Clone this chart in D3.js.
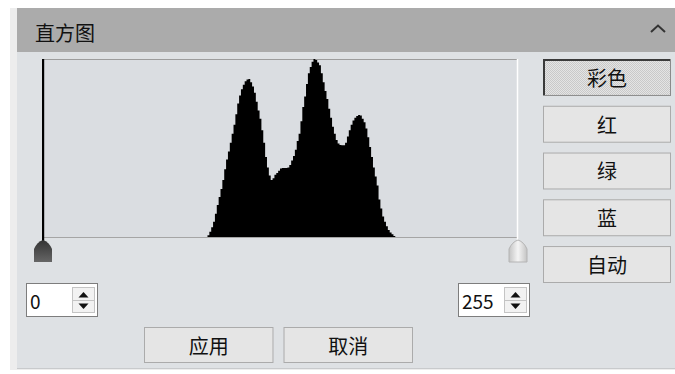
<!DOCTYPE html>
<html>
<head>
<meta charset="utf-8">
<script src="https://cdn.jsdelivr.net/npm/d3@7"></script>
<style>
body { margin: 0; background: #fff; }
svg { display: block; font-family: "Noto Sans CJK SC", "Microsoft YaHei", sans-serif; }
</style>
</head>
<body>
<script>
var width = 675,
    height = 374;

// relative pixel counts per grey level, starting at level 88
var startLevel = 88;
var counts = [
  0, 10, 30, 55, 86, 130, 180, 225, 270, 320,
  380, 435, 480, 530, 580, 630, 690, 750, 795, 830,
  855, 875, 885, 888, 870, 845, 810, 760, 710, 665,
  600, 530, 450, 390, 345, 320, 330, 350, 360, 372,
  385, 388, 388, 388, 390, 405, 430, 455, 490, 540,
  580, 650, 730, 790, 860, 920, 955, 985, 1000, 995,
  980, 965, 920, 870, 820, 775, 720, 670, 620, 580,
  545, 525, 517, 515, 515, 530, 565, 600, 630, 655,
  670, 680, 685, 682, 665, 645, 610, 560, 505, 450,
  390, 340, 290, 210, 160, 115, 85, 60, 40, 25,
  15, 6, 0
];
// pure black pixels, clipped at the top of the plot
var spikeLevel = 0, spikeCount = 2400;

var lowValue = 0, highValue = 255;
var channelLabels = ["彩色", "红", "绿", "蓝", "自动"];
var activeChannel = "彩色";
var actionLabels = ["应用", "取消"];
var title = "直方图";

var plotTop = 59, plotBottom = 237, plotLeft = 42, plotRight = 518;

var svg = d3.select("body").append("svg")
    .attr("width", width)
    .attr("height", height);

var defs = svg.append("defs");
var pat = defs.append("pattern")
    .attr("id", "checker")
    .attr("width", 2).attr("height", 2)
    .attr("patternUnits", "userSpaceOnUse");
pat.append("rect").attr("width", 2).attr("height", 2).attr("fill", "#e4e4e4");
pat.append("rect").attr("width", 1).attr("height", 1).attr("fill", "#c9c9c9");
pat.append("rect").attr("x", 1).attr("y", 1).attr("width", 1).attr("height", 1).attr("fill", "#c9c9c9");

var gDark = defs.append("linearGradient").attr("id", "handleDark")
    .attr("x1", 0).attr("y1", 0).attr("x2", 0).attr("y2", 1);
gDark.append("stop").attr("offset", "0").attr("stop-color", "#333");
gDark.append("stop").attr("offset", "1").attr("stop-color", "#666");

var gLight = defs.append("linearGradient").attr("id", "handleLight")
    .attr("x1", 0).attr("y1", 0).attr("x2", 1).attr("y2", 0);
gLight.append("stop").attr("offset", "0").attr("stop-color", "#c4c4c4");
gLight.append("stop").attr("offset", "0.5").attr("stop-color", "#f4f4f4");
gLight.append("stop").attr("offset", "1").attr("stop-color", "#c4c4c4");

// panel
svg.append("rect").attr("x", 10).attr("y", 8).attr("width", 665).attr("height", 362).attr("fill", "#ededed");
svg.append("rect").attr("x", 17).attr("y", 52).attr("width", 658).attr("height", 316).attr("fill", "#dee1e4");
svg.append("rect").attr("x", 17).attr("y", 8).attr("width", 658).attr("height", 44).attr("fill", "#ababab");
svg.append("line").attr("x1", 17).attr("x2", 675).attr("y1", 368.5).attr("y2", 368.5).attr("stroke", "#c8cacc");

svg.append("text")
    .attr("x", 35).attr("y", 32)
    .attr("dominant-baseline", "central")
    .attr("font-size", 20)
    .attr("fill", "#111")
    .text(title);

svg.append("path")
    .attr("d", "M651,32L658,25.5L665,32")
    .attr("fill", "none")
    .attr("stroke", "#333")
    .attr("stroke-width", 2);

// histogram
var x = d3.scaleLinear().domain([0, 256]).range([plotLeft, plotRight]);
var y = d3.scaleLinear().domain([0, d3.max(counts)]).range([plotBottom, plotTop]).clamp(true);

var bins = counts.map(function(c, i) { return { level: startLevel + i, value: c }; });

svg.append("rect")
    .attr("x", plotLeft).attr("y", plotTop)
    .attr("width", plotRight - plotLeft).attr("height", plotBottom - plotTop)
    .attr("fill", "#dadde1");

svg.append("line")
    .attr("x1", plotLeft).attr("x2", plotRight)
    .attr("y1", plotTop + 0.5).attr("y2", plotTop + 0.5)
    .attr("stroke", "#9c9c9c");
svg.append("line")
    .attr("x1", plotLeft).attr("x2", plotRight)
    .attr("y1", plotBottom + 0.5).attr("y2", plotBottom + 0.5)
    .attr("stroke", "#a5a5a5");

var area = d3.area()
    .x(function(d) { return x(d.level); })
    .y0(plotBottom)
    .y1(function(d) { return y(d.value); })
    .curve(d3.curveStepAfter);

svg.append("path")
    .datum(bins)
    .attr("d", area)
    .attr("fill", "#000");

svg.append("rect")
    .attr("x", x(spikeLevel))
    .attr("y", y(spikeCount))
    .attr("width", 2.2)
    .attr("height", 241 - y(spikeCount))
    .attr("fill", "#000");

// white marker line for the high end
svg.append("line")
    .attr("x1", x(highValue + 1) - 0.5).attr("x2", x(highValue + 1) - 0.5)
    .attr("y1", plotTop).attr("y2", 242)
    .attr("stroke", "#fff").attr("stroke-width", 1.5);

// slider handles
function handlePath(cx) {
  return "M" + (cx - 9) + ",262 L" + (cx - 9) + ",249 Q" + (cx - 6) + ",242 " + cx + ",240 Q" +
    (cx + 6) + ",242 " + (cx + 9) + ",249 L" + (cx + 9) + ",262 Z";
}
svg.append("path")
    .attr("d", handlePath(x(lowValue) + 1))
    .attr("fill", "url(#handleDark)");
svg.append("path")
    .attr("d", handlePath(x(highValue + 1)))
    .attr("fill", "url(#handleLight)")
    .attr("stroke", "#b4b4b4");

// spin boxes
function spinBox(bx, value) {
  var g = svg.append("g").attr("transform", "translate(" + bx + ",283)");
  g.append("rect").attr("x", 0.5).attr("y", 0.5).attr("width", 71).attr("height", 33)
      .attr("fill", "#fff").attr("stroke", "#7d7d7d");
  g.append("text").attr("x", 4).attr("y", 17.5)
      .attr("dominant-baseline", "central")
      .attr("font-size", 19).attr("fill", "#111")
      .text(value);
  g.append("rect").attr("x", 46.5).attr("y", 4.5).attr("width", 22).attr("height", 25)
      .attr("fill", "#f2f2f2").attr("stroke", "#c4c4c4");
  g.append("line").attr("x1", 47).attr("x2", 68).attr("y1", 17.5).attr("y2", 17.5).attr("stroke", "#c4c4c4");
  g.append("path").attr("d", "M52.5,14.5L57.5,9L62.5,14.5Z").attr("fill", "#111");
  g.append("path").attr("d", "M52.5,20.5L57.5,26L62.5,20.5Z").attr("fill", "#111");
}
spinBox(26, lowValue);
spinBox(458, highValue);

// channel buttons
var by = d3.scaleBand().domain(channelLabels).range([59, 283]).paddingInner(0.21);
var cb = svg.selectAll(".chan")
    .data(channelLabels)
  .enter().append("g")
    .attr("class", "chan")
    .attr("transform", function(d) { return "translate(543," + by(d) + ")"; });

cb.append("rect")
    .attr("x", 0.5).attr("y", 0.5)
    .attr("width", 127).attr("height", by.bandwidth() - 1)
    .attr("fill", function(d) { return d === activeChannel ? "url(#checker)" : "#e5e5e5"; })
    .attr("stroke", function(d) { return d === activeChannel ? "#8a8a8a" : "#ababab"; });
cb.filter(function(d) { return d === activeChannel; })
  .append("path")
    .attr("d", "M1," + (by.bandwidth() - 1) + "V1H127")
    .attr("fill", "none")
    .attr("stroke", "#3a3a3a")
    .attr("stroke-width", 2);
cb.append("text")
    .attr("x", 64).attr("y", by.bandwidth() / 2)
    .attr("text-anchor", "middle")
    .attr("dominant-baseline", "central")
    .attr("font-size", 20).attr("fill", "#111")
    .text(function(d) { return d; });

// action buttons
var bx = d3.scaleBand().domain(actionLabels).range([144, 413]).paddingInner(0.072);
var ab = svg.selectAll(".act")
    .data(actionLabels)
  .enter().append("g")
    .attr("class", "act")
    .attr("transform", function(d) { return "translate(" + bx(d) + ",327)"; });
ab.append("rect")
    .attr("x", 0.5).attr("y", 0.5)
    .attr("width", bx.bandwidth() - 1).attr("height", 35)
    .attr("fill", "#e5e5e5").attr("stroke", "#ababab");
ab.append("text")
    .attr("x", bx.bandwidth() / 2).attr("y", 18)
    .attr("text-anchor", "middle")
    .attr("dominant-baseline", "central")
    .attr("font-size", 20).attr("fill", "#111")
    .text(function(d) { return d; });
</script>
</body>
</html>
